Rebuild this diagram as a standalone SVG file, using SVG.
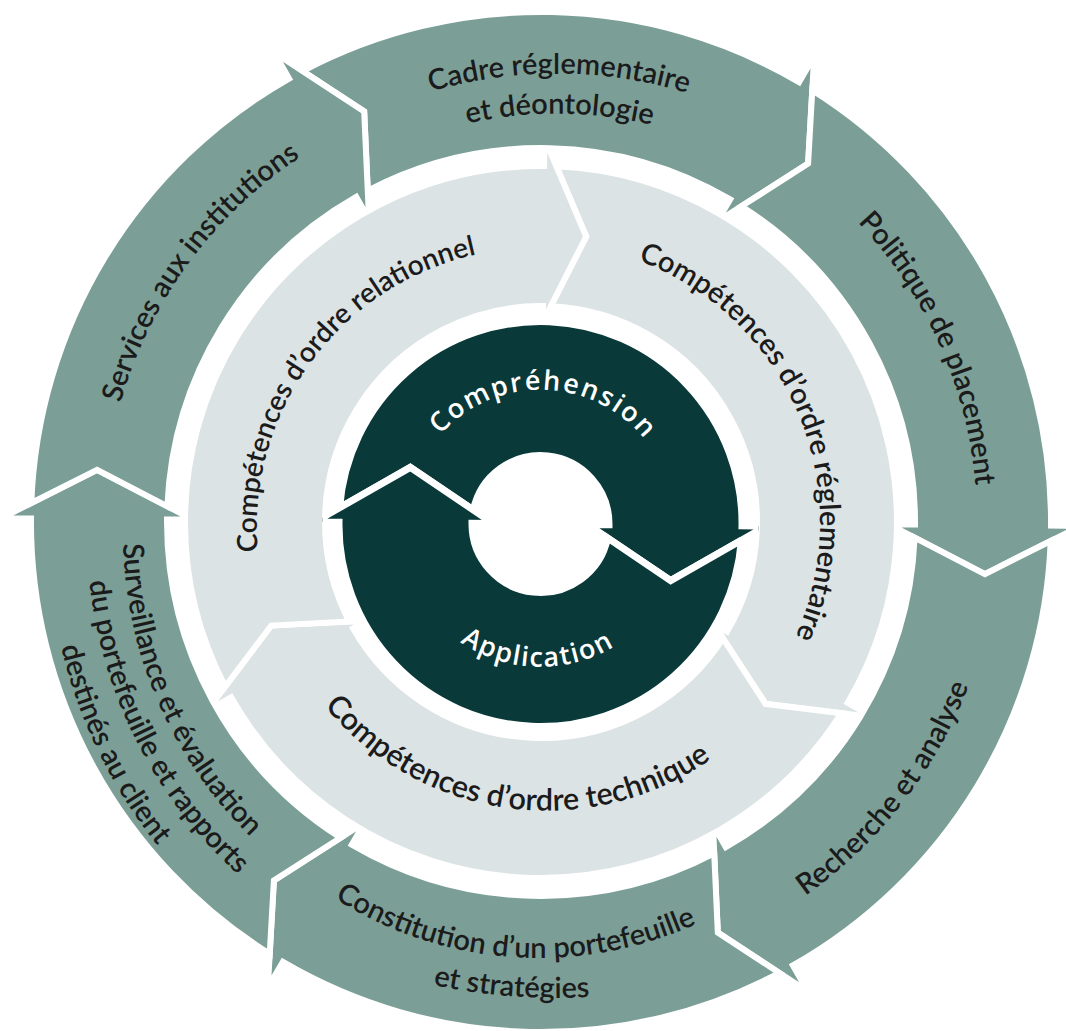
<svg xmlns="http://www.w3.org/2000/svg" width="1066" height="1031" viewBox="0 0 1066 1031">
<style>
.o{fill:#7b9f97;stroke:#fff;stroke-width:6;stroke-linejoin:miter;stroke-miterlimit:2}
.g{fill:#dce3e4;stroke:#fff;stroke-width:6;stroke-linejoin:miter;stroke-miterlimit:2}
.d{fill:#0a393a;stroke:#fff;stroke-width:7;stroke-linejoin:miter;stroke-miterlimit:2}
.t{font-family:Lato,"Liberation Sans",sans-serif;font-size:29px;font-weight:600;fill:#1b1b1b;text-anchor:middle}
.w{font-family:"Open Sans","Liberation Sans",sans-serif;font-size:27px;font-weight:600;fill:#fff;letter-spacing:2px;text-anchor:middle}
</style>
<defs>
<clipPath id="clipO"><path clip-rule="evenodd" d="M0 0H1066V1031H0Z M187 522 A354 354 0 1 0 895 522 A354 354 0 1 0 187 522 Z"/></clipPath>
<clipPath id="clipG"><path clip-rule="evenodd" d="M165 522 A376 376 0 1 0 917 522 A376 376 0 1 0 165 522 Z M342 522 A199 199 0 1 0 740 522 A199 199 0 1 0 342 522 Z"/></clipPath>
<clipPath id="clipD"><path d="M322.5 524 A218 218 0 1 0 758.5 524 A218 218 0 1 0 322.5 524 Z"/></clipPath>
<path id="segO" d="M -238.4 -450.9 A 510 510 0 0 1 258.1 -439.9 L 273.2 -465.8 L 267.1 -358.4 L 176.1 -300.2 L 189.2 -322.6 A 374 374 0 0 0 -173.2 -331.4 L -176.8 -410.5 Z"/>
<path id="segG" d="M 15.4 -355.7 A 356 356 0 0 1 306.7 180.7 L 330.9 194.9 L 224.6 181.9 L 172.3 101.5 L 186.1 109.6 A 216 216 0 0 0 9.8 -215.8 L 45.2 -285.4 Z"/>
<path id="segD" d="M -200.9 -16.3 A 201.5 201.5 0 0 1 201.5 1.76 L 226 1.97 L 130.2 56.6 L 47 0.41 L 68.5 0.6 A 68.5 68.5 0 0 0 -67.05 -13.95 L -130.2 -56.6 Z"/>
<path id="pCadre1" d="M -288.6 -344.0 A 449 449 0 0 1 288.6 -344.0"/>
<path id="pCadre2" d="M -262.9 -313.3 A 409 409 0 0 1 262.9 -313.3"/>
<path id="pPol" d="M -280.3 -334.0 A 436 436 0 0 1 280.3 -334.0"/>
<path id="pRech" d="M -294.4 350.8 A 458 458 0 0 0 294.4 350.8"/>
<path id="pCons1" d="M -244.9 291.8 A 381 381 0 0 0 244.9 291.8"/>
<path id="pCons2" d="M -205.2 563.8 A 600 600 0 0 0 205.2 563.8"/>
<path id="pSurv1" d="M -272.5 324.8 A 424 424 0 0 0 272.5 324.8"/>
<path id="pSurv2" d="M -295.7 352.4 A 460 460 0 0 0 295.7 352.4"/>
<path id="pSurv3" d="M -320.7 382.2 A 499 499 0 0 0 320.7 382.2"/>
<path id="pServ" d="M -280.9 -334.8 A 437 437 0 0 1 280.9 -334.8"/>
<path id="pRel" d="M -242.5 -140 A 280 280 0 0 1 242.5 -140"/>
<path id="pReg" d="M -241.6 -139.5 A 279 279 0 0 1 241.6 -139.5"/>
<path id="pTech" d="M -249.4 144 A 288 288 0 0 0 249.4 144"/>
<path id="pComp" d="M -132.0 -23.3 A 134 134 0 0 1 132.0 -23.3"/>
<path id="pAppl" d="M -140.8 24.8 A 143 143 0 0 0 140.8 24.8"/>
</defs>
<rect width="1066" height="1031" fill="#fff"/>
<g id="outer-ring">
<g id="outer-shapes" clip-path="url(#clipO)">
<use id="shape-cadre" href="#segO" class="o" transform="translate(541,522)"/>
<use id="shape-politique" href="#segO" class="o" transform="translate(541,522) rotate(60)"/>
<use id="shape-recherche" href="#segO" class="o" transform="translate(541,522) rotate(120)"/>
<use id="shape-constitution" href="#segO" class="o" transform="translate(541,522) rotate(180)"/>
<use id="shape-surveillance" href="#segO" class="o" transform="translate(541,522) rotate(240)"/>
<use id="shape-services" href="#segO" class="o" transform="translate(541,522) rotate(300)"/>
</g>
<g id="cadre">
<text class="t" transform="translate(556.8,522.6) rotate(0.3)"><textPath href="#pCadre1" startOffset="50%">Cadre réglementaire</textPath></text>
<text class="t" transform="translate(556.8,522.6) rotate(0.4)"><textPath href="#pCadre2" startOffset="50%">et déontologie</textPath></text>
</g>
<g id="politique">
<text class="t" transform="translate(541,522) rotate(65.9)"><textPath href="#pPol" startOffset="50%">Politique de placement</textPath></text>
</g>
<g id="recherche">
<text class="t" transform="translate(541,522) rotate(-52.15)"><textPath href="#pRech" startOffset="50%">Recherche et analyse</textPath></text>
</g>
<g id="constitution">
<text class="t" transform="translate(539,577) rotate(4)"><textPath href="#pCons1" startOffset="50%">Constitution d’un portefeuille</textPath></text>
<text class="t" transform="translate(556.6,397.9) rotate(4.36)"><textPath href="#pCons2" startOffset="50%">et stratégies</textPath></text>
</g>
<g id="surveillance">
<text class="t" transform="translate(546.9,533.6) rotate(66.5)"><textPath href="#pSurv1" startOffset="50%">Surveillance et évaluation</textPath></text>
<text class="t" transform="translate(546.9,533.6) rotate(63.1)"><textPath href="#pSurv2" startOffset="50%">du portefeuille et rapports</textPath></text>
<text class="t" transform="translate(546.9,533.6) rotate(64.1)"><textPath href="#pSurv3" startOffset="50%">destinés au client</textPath></text>
</g>
<g id="services">
<text class="t" transform="translate(541,522) rotate(-53.8)"><textPath href="#pServ" startOffset="50%">Services aux institutions</textPath></text>
</g>
</g>
<g id="middle-ring">
<g id="middle-shapes" clip-path="url(#clipG)">
<use id="shape-reglementaire" href="#segG" class="g" transform="translate(541,522)"/>
<use id="shape-technique" href="#segG" class="g" transform="translate(541,522) rotate(120)"/>
<use id="shape-relationnel" href="#segG" class="g" transform="translate(541,522) rotate(240)"/>
</g>
<g id="reglementaire">
<text class="t" transform="translate(541,522) rotate(67.3)"><textPath href="#pReg" startOffset="50%">Compétences d’ordre réglementaire</textPath></text>
</g>
<g id="technique">
<text class="t" style="font-size:30.5px" transform="translate(546.6,522.7) rotate(7.8)"><textPath href="#pTech" startOffset="50%">Compétences d’ordre technique</textPath></text>
</g>
<g id="relationnel">
<text class="t" style="font-size:28px" transform="translate(536.8,527.9) rotate(-53.65)"><textPath href="#pRel" startOffset="50%">Compétences d’ordre relationnel</textPath></text>
</g>
</g>
<g id="inner-ring">
<g id="inner-shapes" clip-path="url(#clipD)">
<use id="shape-comprehension" href="#segD" class="d" transform="translate(540.5,524)"/>
<use id="shape-application" href="#segD" class="d" transform="translate(540.5,524) rotate(180)"/>
</g>
<g id="comprehension">
<text class="w" transform="translate(540.5,524) rotate(1.5)"><textPath href="#pComp" startOffset="50%">Compréhension</textPath></text>
</g>
<g id="application">
<text class="w" style="letter-spacing:1.5px" transform="translate(540.5,524) rotate(1.35)"><textPath href="#pAppl" startOffset="50%">Application</textPath></text>
</g>
</g>
<g id="connectors"/>
</svg>
